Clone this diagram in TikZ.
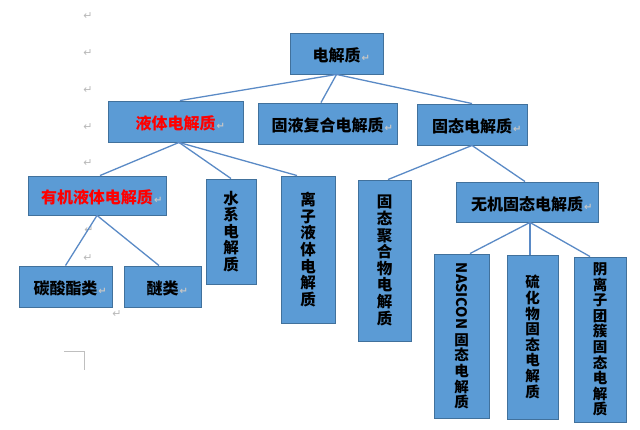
\documentclass[tikz,border=0pt]{standalone}
\usepackage{fontspec}
\setmainfont{Noto Sans CJK SC}
\newfontfamily\symfont{DejaVu Sans}
\usetikzlibrary{positioning}
\definecolor{boxfill}{HTML}{5B9BD5}
\definecolor{boxline}{HTML}{41719C}
\definecolor{linkline}{HTML}{5A8AC6}
\newcommand{\pmark}{\rlap{\kern1pt\textcolor{gray!45}{\symfont\fontsize{10}{10}\selectfont ↵}}}

\begin{document}
\begin{tikzpicture}[x=1pt,y=-1pt,
  box/.style={draw=boxline,line width=0.9pt,fill=boxfill,inner sep=0pt,align=center,
    font=\bfseries\fontsize{16}{18}\selectfont},
  hbox/.style={box,text height=19pt,text depth=2pt},
  vbox/.style={box,font=\bfseries\fontsize{15.5}{16.6}\selectfont},
  lbox/.style={box,font=\bfseries\fontsize{14.5}{15.6}\selectfont},
  link/.style={draw=linkline,line width=1.3pt},
  pmk/.style={text=gray!55,font=\symfont\fontsize{11}{11}\selectfont,inner sep=0pt}]
  \useasboundingbox (0,0) rectangle (640,430);
  \fill[white] (0,0) rectangle (640,430);

  \node[pmk] (p1) at (88,16) {↵};
  \node[pmk] (p2) at (88,53) {↵};
  \node[pmk] (p3) at (88,90) {↵};
  \node[pmk] (p4) at (88,127) {↵};
  \node[pmk] (p5) at (88,163) {↵};
  \node[pmk] (p6) at (89,230) {↵};
  \node[pmk] (p7) at (88,258) {↵};
  \node[pmk] (p8) at (117,314) {↵};
  \draw[gray!50,line width=0.8pt] (64,351) -- (84,351) -- (84,370);

  \node[hbox,minimum width=93pt,minimum height=41pt] (root) at (336.5,53.5) {电解质\pmark};
  \node[hbox,minimum width=135pt,minimum height=41pt,text=red] (liquid) at (175.5,121.5) {液体电解质\pmark};
  \node[hbox,minimum width=139pt,minimum height=41pt] (hybrid) at (327.5,123.5) {固液复合电解质\pmark};
  \node[hbox,minimum width=110pt,minimum height=41pt] (solid) at (472,124.5) {固态电解质\pmark};

  \node[hbox,minimum width=138pt,minimum height=39pt,text=red] (organic) at (97,195.5) {有机液体电解质\pmark};
  \node[vbox,minimum width=50pt,minimum height=105pt] (aqueous) at (231,231.5) {水\\系\\电\\解\\质};
  \node[vbox,minimum width=54pt,minimum height=147pt] (ionic) at (308,249.5) {离\\子\\液\\体\\电\\解\\质};
  \node[vbox,minimum width=53pt,minimum height=161pt] (polymer) at (384.5,260.5) {固\\态\\聚\\合\\物\\电\\解\\质};
  \node[hbox,minimum width=142pt,minimum height=40pt] (inorganic) at (527,202) {无机固态电解质\pmark};

  \node[hbox,minimum width=93pt,minimum height=41pt] (carbonate) at (65.5,286.5) {碳酸酯类\pmark};
  \node[hbox,minimum width=77pt,minimum height=41pt] (ether) at (162.5,286.5) {醚类\pmark};
  \node[lbox,minimum width=55pt,minimum height=164pt] (nasicon) at (461.5,336)
    {\rotatebox[origin=c]{-90}{NASICON}\\[3pt]固\\态\\电\\解\\质};
  \node[lbox,minimum width=51pt,minimum height=164pt] (sulfide) at (532.5,337) {硫\\化\\物\\固\\态\\电\\解\\质};
  \node[lbox,minimum width=52pt,minimum height=165pt] (anion) at (600,339.5) {阴\\离\\子\\团\\簇\\固\\态\\电\\解\\质};

  \draw[link] (root.south) -- ([xshift=4.5pt]liquid.north);
  \draw[link] (root.south) -- ([xshift=-6.5pt]hybrid.north);
  \draw[link] (root.south) -- (solid.north);
  \draw[link] ([xshift=3.5pt]liquid.south) -- ([xshift=3pt]organic.north);
  \draw[link] ([xshift=3.5pt]liquid.south) -- (aqueous.north);
  \draw[link] ([xshift=3.5pt]liquid.south) -- ([xshift=-11pt]ionic.north);
  \draw[link] (organic.south) -- (carbonate.north);
  \draw[link] (organic.south) -- ([xshift=-3.5pt]ether.north);
  \draw[link] (solid.south) -- ([xshift=3.5pt]polymer.north);
  \draw[link] (solid.south) -- ([xshift=-2pt]inorganic.north);
  \draw[link] ([xshift=3pt]inorganic.south) -- ([xshift=8.5pt]nasicon.north);
  \draw[link] ([xshift=3pt]inorganic.south) -- ([xshift=-2.5pt]sulfide.north);
  \draw[link] ([xshift=3pt]inorganic.south) -- ([xshift=-10pt]anion.north);
\end{tikzpicture}
\end{document}
